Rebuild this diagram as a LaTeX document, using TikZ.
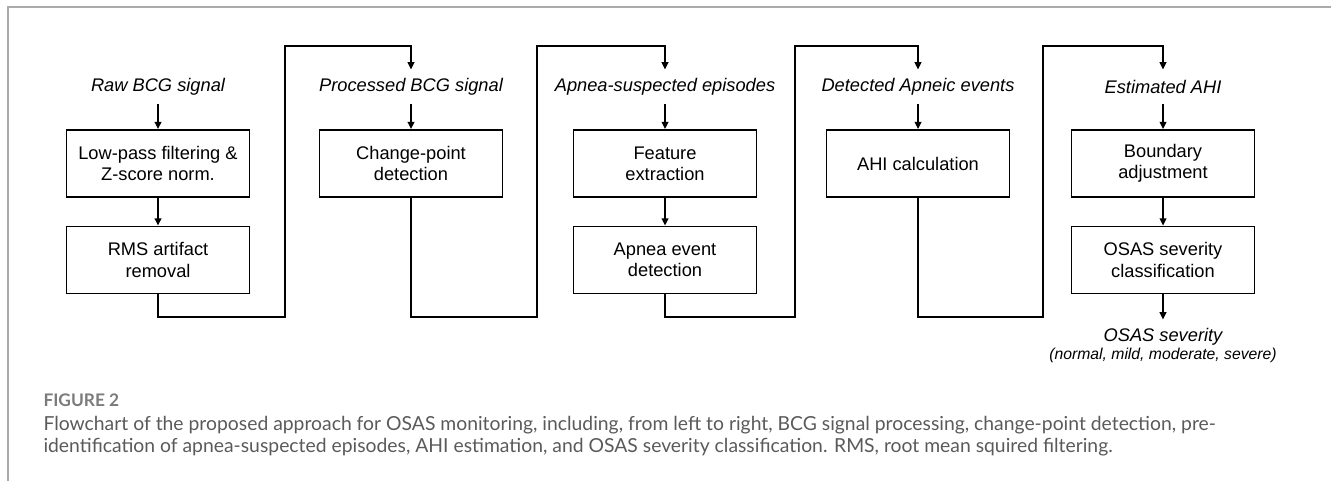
\documentclass[tikz,border=0pt]{standalone}
\usepackage{fontspec}
\setmainfont{Liberation Sans}
\newfontfamily\capfont{Lato}
\usetikzlibrary{arrows.meta}

\definecolor{rulegray}{RGB}{170,170,170}
\definecolor{capgray}{RGB}{90,90,90}

\tikzset{every picture/.style={line width=0.75pt}}
\tikzset{
  stage/.style={draw, line width=1.3pt, minimum width=137.25pt, minimum height=50.25pt,
    inner sep=0pt, align=center, font=\fontsize{13.7}{15.8}\selectfont},
  signal/.style={minimum height=25.5pt, inner sep=0pt,
    font=\fontsize{13.7}{15.8}\selectfont\itshape},
  feed/.style={line width=1.3pt, -{Triangle[length=5.5pt,width=5pt]}},
}

\begin{document}
\begin{tikzpicture}[x=0.75pt,y=0.75pt,yscale=-1,xscale=1]
\useasboundingbox (0,0) rectangle (1331,481);

%Page rules
\draw [rulegray, line width=1.1pt] (8,481) -- (8,7) -- (1331,7) ;

% Text Node
\node [signal] (raw) at (158,87) {Raw BCG signal};
\node [signal] (proc) at (411,87) {Processed BCG signal};
\node [signal] (susp) at (665,87) {Apnea-suspected episodes};
\node [signal] (evts) at (918,87) {Detected Apneic events};
\node [signal] (ahi) at (1163,87) {Estimated AHI};

%Shape: Rectangle
\node [stage] (lpf) at (158,163.5) {Low-pass filtering \&\\Z-score norm.};
\node [stage] (rms) at (158,260) {RMS artifact\\removal};
\node [stage] (cpd) at (411,163.5) {Change-point\\detection};
\node [stage] (feat) at (665,163.5) {Feature\\extraction};
\node [stage] (aed) at (665,260) {Apnea event\\detection};
\node [stage] (calc) at (918,163.5) {AHI calculation};
\node [stage] (bnd) at (1163,163.5) {Boundary\\adjustment};
\node [stage] (cls) at (1163,260) {OSAS severity\\classification};

% Text Node
\node [signal] (sev) at (1163,337) {OSAS severity};
\node [font=\fontsize{11.8}{13}\selectfont\itshape, inner sep=0pt] (grades) at (1163,355) {(normal, mild, moderate, severe)};

%Straight Lines
\draw [feed] (raw) -- (lpf) ;
\draw [feed] (lpf) -- (rms) ;
\draw [feed] (proc) -- (cpd) ;
\draw [feed] (susp) -- (feat) ;
\draw [feed] (feat) -- (aed) ;
\draw [feed] (evts) -- (calc) ;
\draw [feed] (ahi) -- (bnd) ;
\draw [feed] (bnd) -- (cls) ;
\draw [feed] (cls) -- (sev) ;

%Connector Lines
\coordinate (lowA) at (285,317) ; \coordinate (highA) at (285,46) ;
\coordinate (lowB) at (537,317) ; \coordinate (highB) at (537,46) ;
\coordinate (lowC) at (795,317) ; \coordinate (highC) at (795,46) ;
\coordinate (lowD) at (1043,317) ; \coordinate (highD) at (1043,46) ;
\draw [feed] (rms.south) |- (lowA) -- (highA) -| (proc.north) ;
\draw [feed] (cpd.south) |- (lowB) -- (highB) -| (susp.north) ;
\draw [feed] (aed.south) |- (lowC) -- (highC) -| (evts.north) ;
\draw [feed] (calc.south) |- (lowD) -- (highD) -| (ahi.north) ;

% Caption
\node [anchor=base west, inner sep=0pt, text=capgray!80, font=\capfont\bfseries\fontsize{13}{15}\selectfont] (fig) at (43,406) {FIGURE 2};
\node [anchor=north west, inner sep=0pt, align=left, text=capgray, font=\capfont\fontsize{14.5}{16.5}\selectfont] (cap) at (43,416)
  {Flowchart of the proposed approach for OSAS monitoring, including, from left to right, BCG signal processing, change-point detection, pre-\\
   identification of apnea-suspected episodes, AHI estimation, and OSAS severity classification. RMS, root mean squired filtering.};

\end{tikzpicture}
\end{document}
